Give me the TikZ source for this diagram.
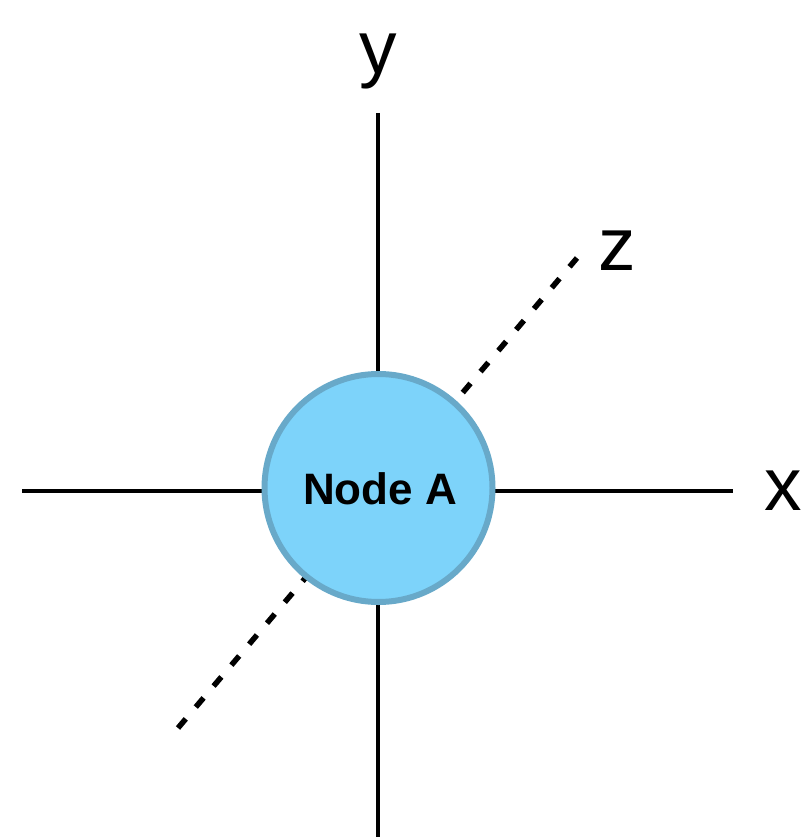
\documentclass[tikz,border=0pt]{standalone}
\usepackage{fontspec}
\setmainfont{Liberation Sans}
\begin{document}
\begin{tikzpicture}[x=1pt,y=-1pt,
  axis/.style={line width=3.2pt,black},
  depth/.style={line width=5.5pt,black,dash pattern=on 12pt off 15.5pt},
  ball/.style={circle,draw=ballrim,fill=ballfill,line width=6pt,minimum size=228pt,inner sep=0pt},
  axislabel/.style={anchor=base,inner sep=0pt,font=\fontsize{75}{80}\selectfont}]
\definecolor{ballfill}{HTML}{7DD3FA}
\definecolor{ballrim}{HTML}{68A9C9}
\useasboundingbox (0,0) rectangle (805,837);
% axis end points
\coordinate (yt) at (378,113);
\coordinate (yb) at (378,837);
\coordinate (xl) at (22,491);
\coordinate (xr) at (733,491);
\coordinate (zf) at (178,728);
\coordinate (zb) at (577,258);
% axes, drawn beneath the node
\draw[depth] (zf) -- (zb);
\draw[axis] (yt) -- (yb);
\draw[axis] (xl) -- (xr);
% central node
\node[ball] (A) at (378.5,488) {};
\node[anchor=base,inner sep=0pt,font=\fontsize{44}{50}\selectfont\bfseries] (Atext) at (380,504) {Node A};
% axis labels
\node[axislabel] (ylab) at (378,74) {y};
\node[axislabel] (xlab) at (783,510) {x};
\node[axislabel] (zlab) at (617,270) {z};
\end{tikzpicture}
\end{document}
